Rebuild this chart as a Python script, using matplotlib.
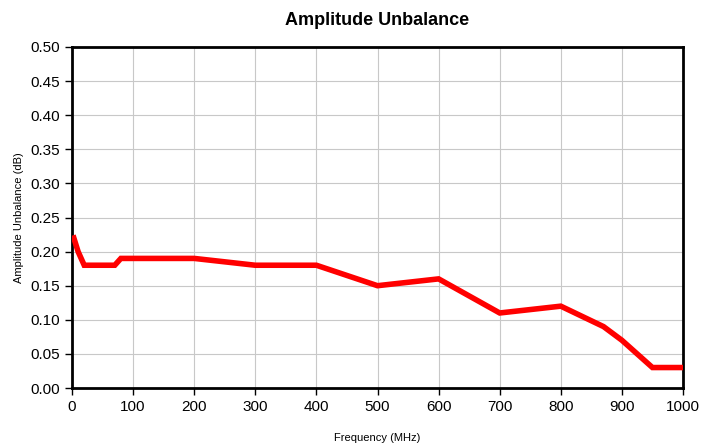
import numpy as np
import matplotlib.pyplot as plt

# data
freq_mhz = [3, 10, 20, 70, 80, 200, 300, 400, 500, 600, 700, 800, 870, 900, 950, 1000]
unbalance_db = [0.22, 0.20, 0.18, 0.18, 0.19, 0.19, 0.18, 0.18, 0.15, 0.16, 0.11, 0.12, 0.09, 0.07, 0.03, 0.03]

x_ticks = np.arange(0, 1001, 100)
y_ticks = np.arange(0, 0.501, 0.05)

plt.rcParams['font.family'] = ['Liberation Sans', 'DejaVu Sans']

fig = plt.figure(figsize=(7.02, 4.47), dpi=100)
ax = fig.add_axes([72 / 702, 1 - 388 / 447, 611 / 702, 341 / 447])

ax.plot(freq_mhz, unbalance_db, color='#ff0000', lw=4, solid_joinstyle='miter', zorder=3)

ax.set_xlim(0, 1000)
ax.set_ylim(0, 0.5)
ax.set_xticks(x_ticks)
ax.set_yticks(y_ticks)
ax.set_yticklabels([f'{v:.2f}' for v in y_ticks])
ax.grid(True, color='#c8c8c8', lw=0.8)
ax.tick_params(direction='out', length=5, width=1, labelsize=11, color='black')
for s in ax.spines.values():
    s.set_linewidth(2)
    s.set_color('black')

ax.set_title('Amplitude Unbalance', fontsize=13, fontweight='bold', pad=16)
ax.set_xlabel('Frequency (MHz)', fontsize=8, labelpad=14)
ax.set_ylabel('Amplitude Unbalance (dB)', fontsize=8, labelpad=5)

fig.savefig('out.png', dpi=100)
